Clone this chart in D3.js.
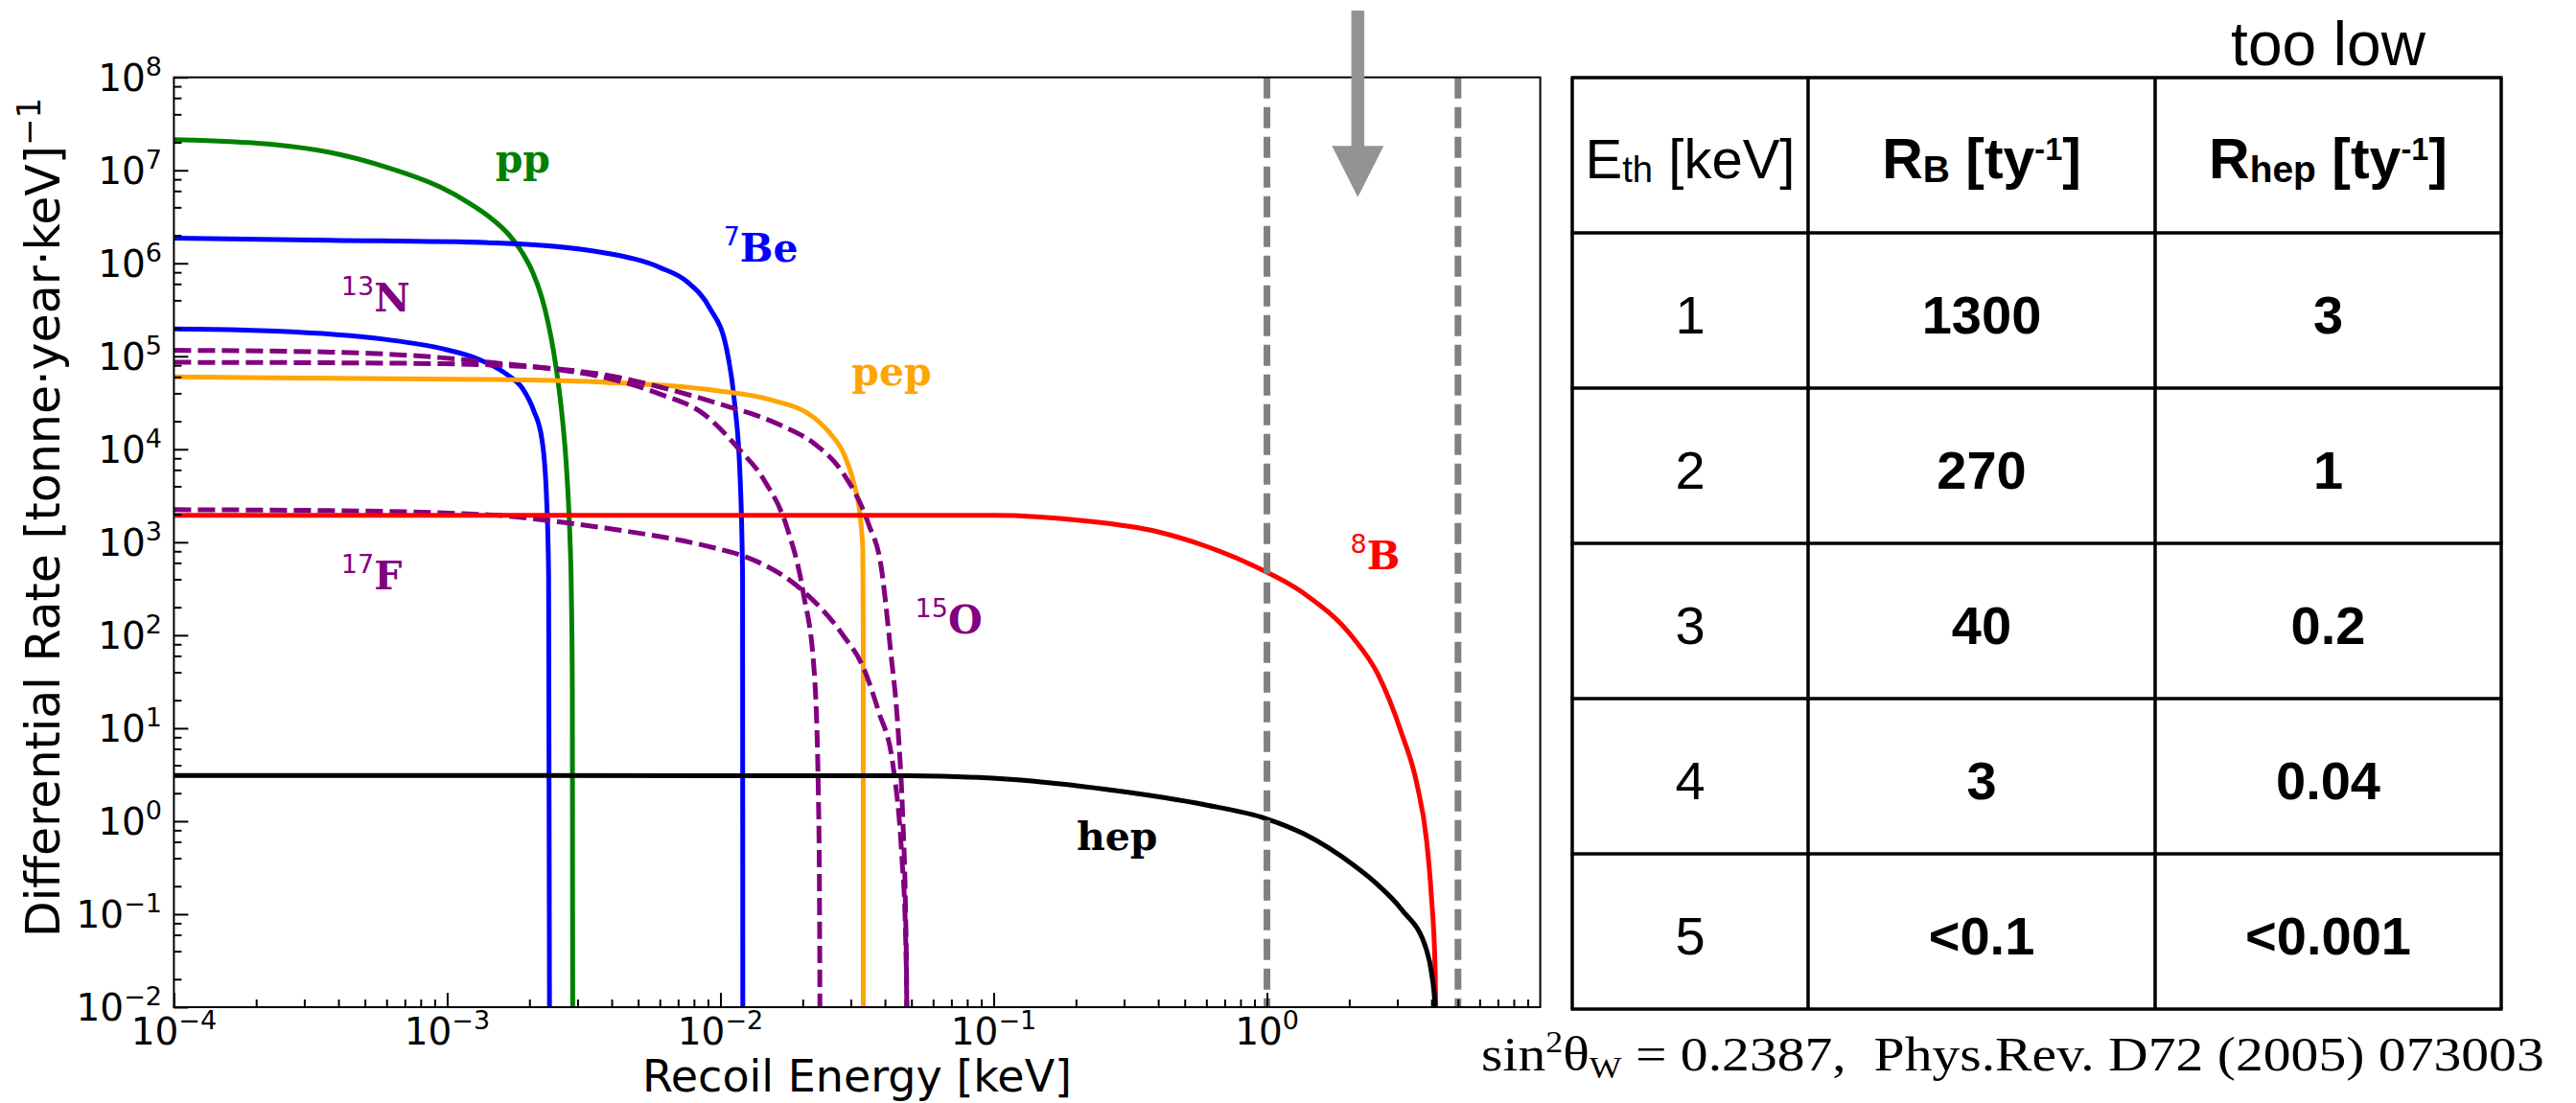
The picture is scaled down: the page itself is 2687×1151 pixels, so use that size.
<!DOCTYPE html>
<html><head><meta charset="utf-8">
<script src="https://cdn.jsdelivr.net/npm/d3@7"></script>
<style>
html,body{margin:0;padding:0;background:#fff;}
svg{display:block;}
text{white-space:pre;}
</style></head><body>
<svg id="chart" width="2687" height="1151"></svg>
<script>
// ---------------- data (recoil energy keV, rate per tonne·year·keV) ----------------
const ppData = [[1e-4,2.13e7],[2.346e-4,1.886e7],[3.72e-4,1.56e7],[5.94e-4,1.09e7],[9.41e-4,6.62e6],[1.19e-3,4.54e6],[1.422e-3,3.18e6],[1.671e-3,2.075e6],[1.886e-3,1.291e6],[2.062e-3,7.84e5],[2.217e-3,4.33e5],[2.346e-3,2.23e5],[2.462e-3,1.043e5],[2.564e-3,4.55e4],[2.647e-3,1.98e4],[2.713e-3,8.64e3],[2.768e-3,3.34e3],[2.813e-3,1.149e3],[2.848e-3,2.77e2],[2.871e-3,25.8],[2.883e-3,1e-3]];
const be7HighData = [[1e-4,1.86e6],[3.73e-4,1.77e6],[1.50e-3,1.66e6],[3.79e-3,1.29e6],[6.03e-3,8.97e5],[7.60e-3,6.25e5],[9.14e-3,3.30e5],[1.052e-2,1.22e5],[1.127e-2,3.12e4],[1.18e-2,5.06e3],[1.205e-2,4.4e2],[1.208e-2,1e-3]];
const be7LowData = [[1e-4,1.97e5],[2.35e-4,1.87e5],[5.93e-4,1.52e5],[9.43e-4,1.22e5],[1.305e-3,9.27e4],[1.645e-3,6.44e4],[1.89e-3,4.48e4],[2.074e-3,2.60e4],[2.224e-3,1.26e4],[2.308e-3,3.22e3],[2.351e-3,4.4e2],[2.372e-3,1e-3]];
const pepData = [[1e-4,6.0e4],[1.5e-3,5.62e4],[3.79e-3,5.25e4],[9.58e-3,4.29e4],[1.524e-2,3.41e4],[2.208e-2,2.17e4],[2.506e-2,1.51e4],[2.837e-2,8.73e3],[3.082e-2,4.23e3],[3.236e-2,2.05e3],[3.319e-2,8.24e2],[3.332e-2,1e2],[3.333e-2,1e-3]];
const n13Data = [[1e-4,1.16e5],[3.73e-4,1.11e5],[9.41e-4,9.69e4],[1.505e-3,8.47e4],[2.384e-3,7.38e4],[3.79e-3,5.89e4],[6.03e-3,3.91e4],[8.73e-3,2.37e4],[1.153e-2,1.05e4],[1.452e-2,4.55e3],[1.75e-2,1.46e3],[2.011e-2,2.83e2],[2.207e-2,38.3],[2.291e-2,1.01],[2.312e-2,0.01],[2.313e-2,1e-3]];
const o15Data = [[1e-4,8.61e4],[3.73e-4,8.51e4],[9.41e-4,8.32e4],[1.505e-3,8.03e4],[2.384e-3,7.41e4],[3.79e-3,6.31e4],[6.03e-3,4.66e4],[9.58e-3,3.17e4],[1.671e-2,1.80e4],[2.207e-2,1.148e4],[2.782e-2,5.77e3],[3.486e-2,1.56e3],[3.867e-2,5.64e2],[4.198e-2,66.6],[4.464e-2,9.98],[4.652e-2,1.02],[4.75e-2,0.139],[4.808e-2,0.01],[4.81e-2,1e-3]];
const f17Data = [[1e-4,2.24e3],[3.73e-4,2.19e3],[1.50e-3,1.955e3],[2.384e-3,1.70e3],[3.79e-3,1.42e3],[9.58e-3,8.64e2],[1.208e-2,7.15e2],[2.011e-2,2.97e2],[2.782e-2,1.04e2],[3.345e-2,43.9],[3.784e-2,15.4],[4.283e-2,3.95],[4.614e-2,0.405],[4.753e-2,0.0684],[4.808e-2,0.01],[4.81e-2,1e-3]];
const b8Data = [[1e-4,1.95e3],[0.1,1.95e3],[0.2144,1.70e3],[0.396,1.30e3],[0.598,9.06e2],[0.903,5.50e2],[1.363,2.83e2],[2.058,95.1],[2.54,38.6],[3.108,8.86],[3.537,2.52],[3.834,0.636],[3.992,0.1645],[4.123,0.02646],[4.156,3.1e-3],[4.16,1e-4]];
const hepData = [[1e-4,3.1],[0.0485,3.08],[0.1151,2.82],[0.2625,2.185],[0.598,1.495],[0.987,1.072],[1.363,0.733],[2.058,0.343],[2.54,0.208],[3.108,0.1125],[3.834,0.0415],[4.0,0.0235],[4.123,0.01],[4.14,1e-4]];

const seriesNames  = ["pp","7Be-862","7Be-384","pep","13N","15O","17F","8B","hep"];
const seriesData   = [ppData,be7HighData,be7LowData,pepData,n13Data,o15Data,f17Data,b8Data,hepData];
const seriesColors = ["#008000","#0000ff","#0000ff","#ffa500","#800080","#800080","#800080","#ff0000","#000000"];
const seriesDashed = [false,false,false,false,true,true,true,false,false];

// curve labels: superscript, name, anchor (keV, rate)
const labelSup   = ["","7","13","17","","15","8",""];
const labelText  = ["pp","Be","N","F","pep","O","B","hep"];
const labelX     = [1.50e-3,1.026e-2,4.09e-4,4.09e-4,3.02e-2,5.16e-2,2.02,0.201];
const labelY     = [9.5e6,1.05e6,3.07e5,3.10e2,4.91e4,1.04e2,5.12e2,0.486];
const labelColor = ["#008000","#0000ff","#800080","#800080","#ffa500","#800080","#ff0000","#000000"];

const xTickValues = [1e-4,1e-3,1e-2,1e-1,1];
const xTickExp    = ["−4","−3","−2","−1","0"];
const yTickValues = [1e8,1e7,1e6,1e5,1e4,1e3,1e2,1e1,1e0,1e-1,1e-2];
const yTickExp    = ["8","7","6","5","4","3","2","1","0","−1","−2"];
const thresholdLines = [1,5];
const arrowX = 2.15, arrowTop = 5.22e8, arrowHeadBase = 1.83e7, arrowTip = 5.14e6;

const tableEth  = ["1","2","3","4","5"];
const tableRB   = ["1300","270","40","3","<0.1"];
const tableRhep = ["3","1","0.2","0.04","<0.001"];

// ---------------- layout ----------------
const svg = d3.select("#chart");
const L = 181.4, R = 1606.6, T = 80.7, B = 1051;
const x = d3.scaleLog().domain([1e-4,10]).range([L,R]);
const y = d3.scaleLog().domain([1e-2,1e8]).range([B,T]);

svg.append("defs").append("clipPath").attr("id","clip")
  .append("rect").attr("x",L).attr("y",T).attr("width",R-L).attr("height",B-T);

const line = d3.line().x(d=>x(d[0])).y(d=>y(d[1])).curve(d3.curveMonotoneX);
const gCurves = svg.append("g").attr("clip-path","url(#clip)");
seriesData.forEach((data,i)=>{
  gCurves.append("path").attr("d",line(data)).attr("fill","none")
    .attr("stroke",seriesColors[i]).attr("stroke-width",5)
    .attr("stroke-dasharray",seriesDashed[i]?"18,7":null);
});
// threshold lines
thresholdLines.forEach(v=>{
  gCurves.append("line").attr("x1",x(v)).attr("x2",x(v)).attr("y1",T).attr("y2",B)
    .attr("stroke","#808080").attr("stroke-width",7).attr("stroke-dasharray","22,9");
});

// ticks
const xMinor = [];
[1e-4,1e-3,1e-2,1e-1,1].forEach(d=>{for(let k=2;k<=9;k++) xMinor.push(d*k);});
const yMinor = [];
[1e-2,1e-1,1,1e1,1e2,1e3,1e4,1e5,1e6,1e7].forEach(d=>{[2,4,6,8].forEach(k=>yMinor.push(d*k));});

function styleAxis(g){ g.select(".domain").remove(); g.selectAll("line").attr("stroke","#000").attr("stroke-width",2); g.selectAll("text").remove(); }
svg.append("g").attr("transform",`translate(0,${B})`)
  .call(d3.axisBottom(x).tickValues(xTickValues).tickSize(-15).tickSizeOuter(0).tickFormat("")).call(styleAxis);
svg.append("g").attr("transform",`translate(0,${B})`)
  .call(d3.axisBottom(x).tickValues(xMinor).tickSize(-8).tickSizeOuter(0).tickFormat("")).call(styleAxis);
svg.append("g").attr("transform",`translate(${L},0)`)
  .call(d3.axisLeft(y).tickValues(yTickValues).tickSize(-15).tickSizeOuter(0).tickFormat("")).call(styleAxis);
svg.append("g").attr("transform",`translate(${L},0)`)
  .call(d3.axisLeft(y).tickValues(yMinor).tickSize(-8).tickSizeOuter(0).tickFormat("")).call(styleAxis);

// frame
svg.append("rect").attr("x",L).attr("y",T).attr("width",R-L).attr("height",B-T)
  .attr("fill","none").attr("stroke","#000").attr("stroke-width",2);

// tick labels
const tickFont = "DejaVu Sans";
xTickValues.forEach((v,i)=>{
  const t = svg.append("text").attr("x",x(v)).attr("y",1090).attr("text-anchor","middle")
    .attr("font-family",tickFont).attr("font-size",39).attr("fill","#000");
  t.append("tspan").text("10");
  t.append("tspan").attr("font-size",27).attr("dy",-16).text(xTickExp[i]);
});
yTickValues.forEach((v,i)=>{
  const t = svg.append("text").attr("x",169).attr("y",y(v)+14).attr("text-anchor","end")
    .attr("font-family",tickFont).attr("font-size",39).attr("fill","#000");
  t.append("tspan").text("10");
  t.append("tspan").attr("font-size",27).attr("dy",-16).text(yTickExp[i]);
});

// axis labels
svg.append("text").attr("x",(L+R)/2).attr("y",1139).attr("text-anchor","middle")
  .attr("font-family",tickFont).attr("font-size",46).text("Recoil Energy [keV]");
const yl = svg.append("text").attr("transform",`translate(62,540) rotate(-90)`).attr("text-anchor","middle")
  .attr("font-family",tickFont).attr("font-size",49);
yl.append("tspan").text("Differential Rate [tonne·year·keV]");
yl.append("tspan").attr("font-size",34).attr("dy",-20).text("−1");

// curve labels
labelText.forEach((s,i)=>{
  const t = svg.append("text").attr("x",x(labelX[i])).attr("y",y(labelY[i])).attr("fill",labelColor[i]);
  if(labelSup[i]){
    t.append("tspan").attr("font-family","DejaVu Sans").attr("font-size",27).attr("dy",-17).text(labelSup[i]);
    t.append("tspan").attr("font-family","DejaVu Serif").attr("font-weight","bold").attr("font-size",41).attr("dy",17).text(s);
  } else {
    t.append("tspan").attr("font-family","DejaVu Serif").attr("font-weight","bold").attr("font-size",41).text(s);
  }
});

// arrow
const ax = x(arrowX);
svg.append("rect").attr("x",ax-6.75).attr("y",y(arrowTop)).attr("width",13.5).attr("height",y(arrowHeadBase)-y(arrowTop)+1).attr("fill","#939393");
svg.append("path").attr("d",`M${ax-27},${y(arrowHeadBase)} L${ax+27},${y(arrowHeadBase)} L${ax},${y(arrowTip)} Z`).attr("fill","#939393");

// ---------------- table ----------------
const tL = 1640, colW = [246,362,361], tTop = 81, rowH = 162;
const colX = [tL, tL+colW[0], tL+colW[0]+colW[1], tL+colW[0]+colW[1]+colW[2]];
const nRows = 6;
const gt = svg.append("g");
for(let r=0;r<=nRows;r++) gt.append("line").attr("x1",colX[0]-1.5).attr("x2",colX[3]+1.5).attr("y1",tTop+r*rowH).attr("y2",tTop+r*rowH).attr("stroke","#000").attr("stroke-width",3.5);
colX.forEach(cx=>gt.append("line").attr("x1",cx).attr("x2",cx).attr("y1",tTop).attr("y2",tTop+nRows*rowH).attr("stroke","#000").attr("stroke-width",3.5));
const tf = "Liberation Sans, Arial, Helvetica, sans-serif";
function cellText(col,row,parts,bold,size){
  const cx = (colX[col]+colX[col+1])/2, cy = tTop+row*rowH+rowH/2 + 24;
  const t = gt.append("text").attr("x",cx).attr("y",cy).attr("text-anchor","middle")
    .attr("font-family",tf).attr("font-size",size).attr("font-weight",bold?"bold":"normal");
  let shift = 0;
  parts.forEach(p=>{
    const ts = t.append("tspan").text(p.t);
    let target = 0, fs = size;
    if(p.sub){target = 4; fs = size*0.66;}
    if(p.sup){target = -19; fs = size*0.55;}
    ts.attr("font-size",fs).attr("dy",target-shift);
    shift = target;
  });
}
cellText(0,0,[{t:"E"},{t:"th",sub:true},{t:" [keV]"}],false,58);
cellText(1,0,[{t:"R"},{t:"B",sub:true},{t:" [ty"},{t:"-1",sup:true},{t:"]"}],true,59);
cellText(2,0,[{t:"R"},{t:"hep",sub:true},{t:" [ty"},{t:"-1",sup:true},{t:"]"}],true,59);
tableEth.forEach((v,i)=>cellText(0,i+1,[{t:v}],false,56));
tableRB.forEach((v,i)=>cellText(1,i+1,[{t:v}],true,56));
tableRhep.forEach((v,i)=>cellText(2,i+1,[{t:v}],true,56));

svg.append("text").attr("x",(colX[2]+colX[3])/2).attr("y",68).attr("text-anchor","middle")
  .attr("font-family",tf).attr("font-size",64).text("too low");

// citation
const cit = svg.append("text").attr("font-family","Liberation Serif, Times New Roman, serif").attr("font-size",50).attr("fill","#000");
cit.append("tspan").text("sin");
cit.append("tspan").attr("font-size",31).attr("dy",-19).text("2");
cit.append("tspan").attr("dy",19).text("θ");
cit.append("tspan").attr("font-size",31).attr("dy",8).text("W");
cit.append("tspan").attr("dy",-8).text(" = 0.2387,  Phys.Rev. D72 (2005) 073003");
const bb = cit.node().getBBox();
const k = 1109/bb.width;
cit.attr("transform",`translate(${1545 - bb.x*k},1117) scale(${k},1)`);
</script>
</body></html>
